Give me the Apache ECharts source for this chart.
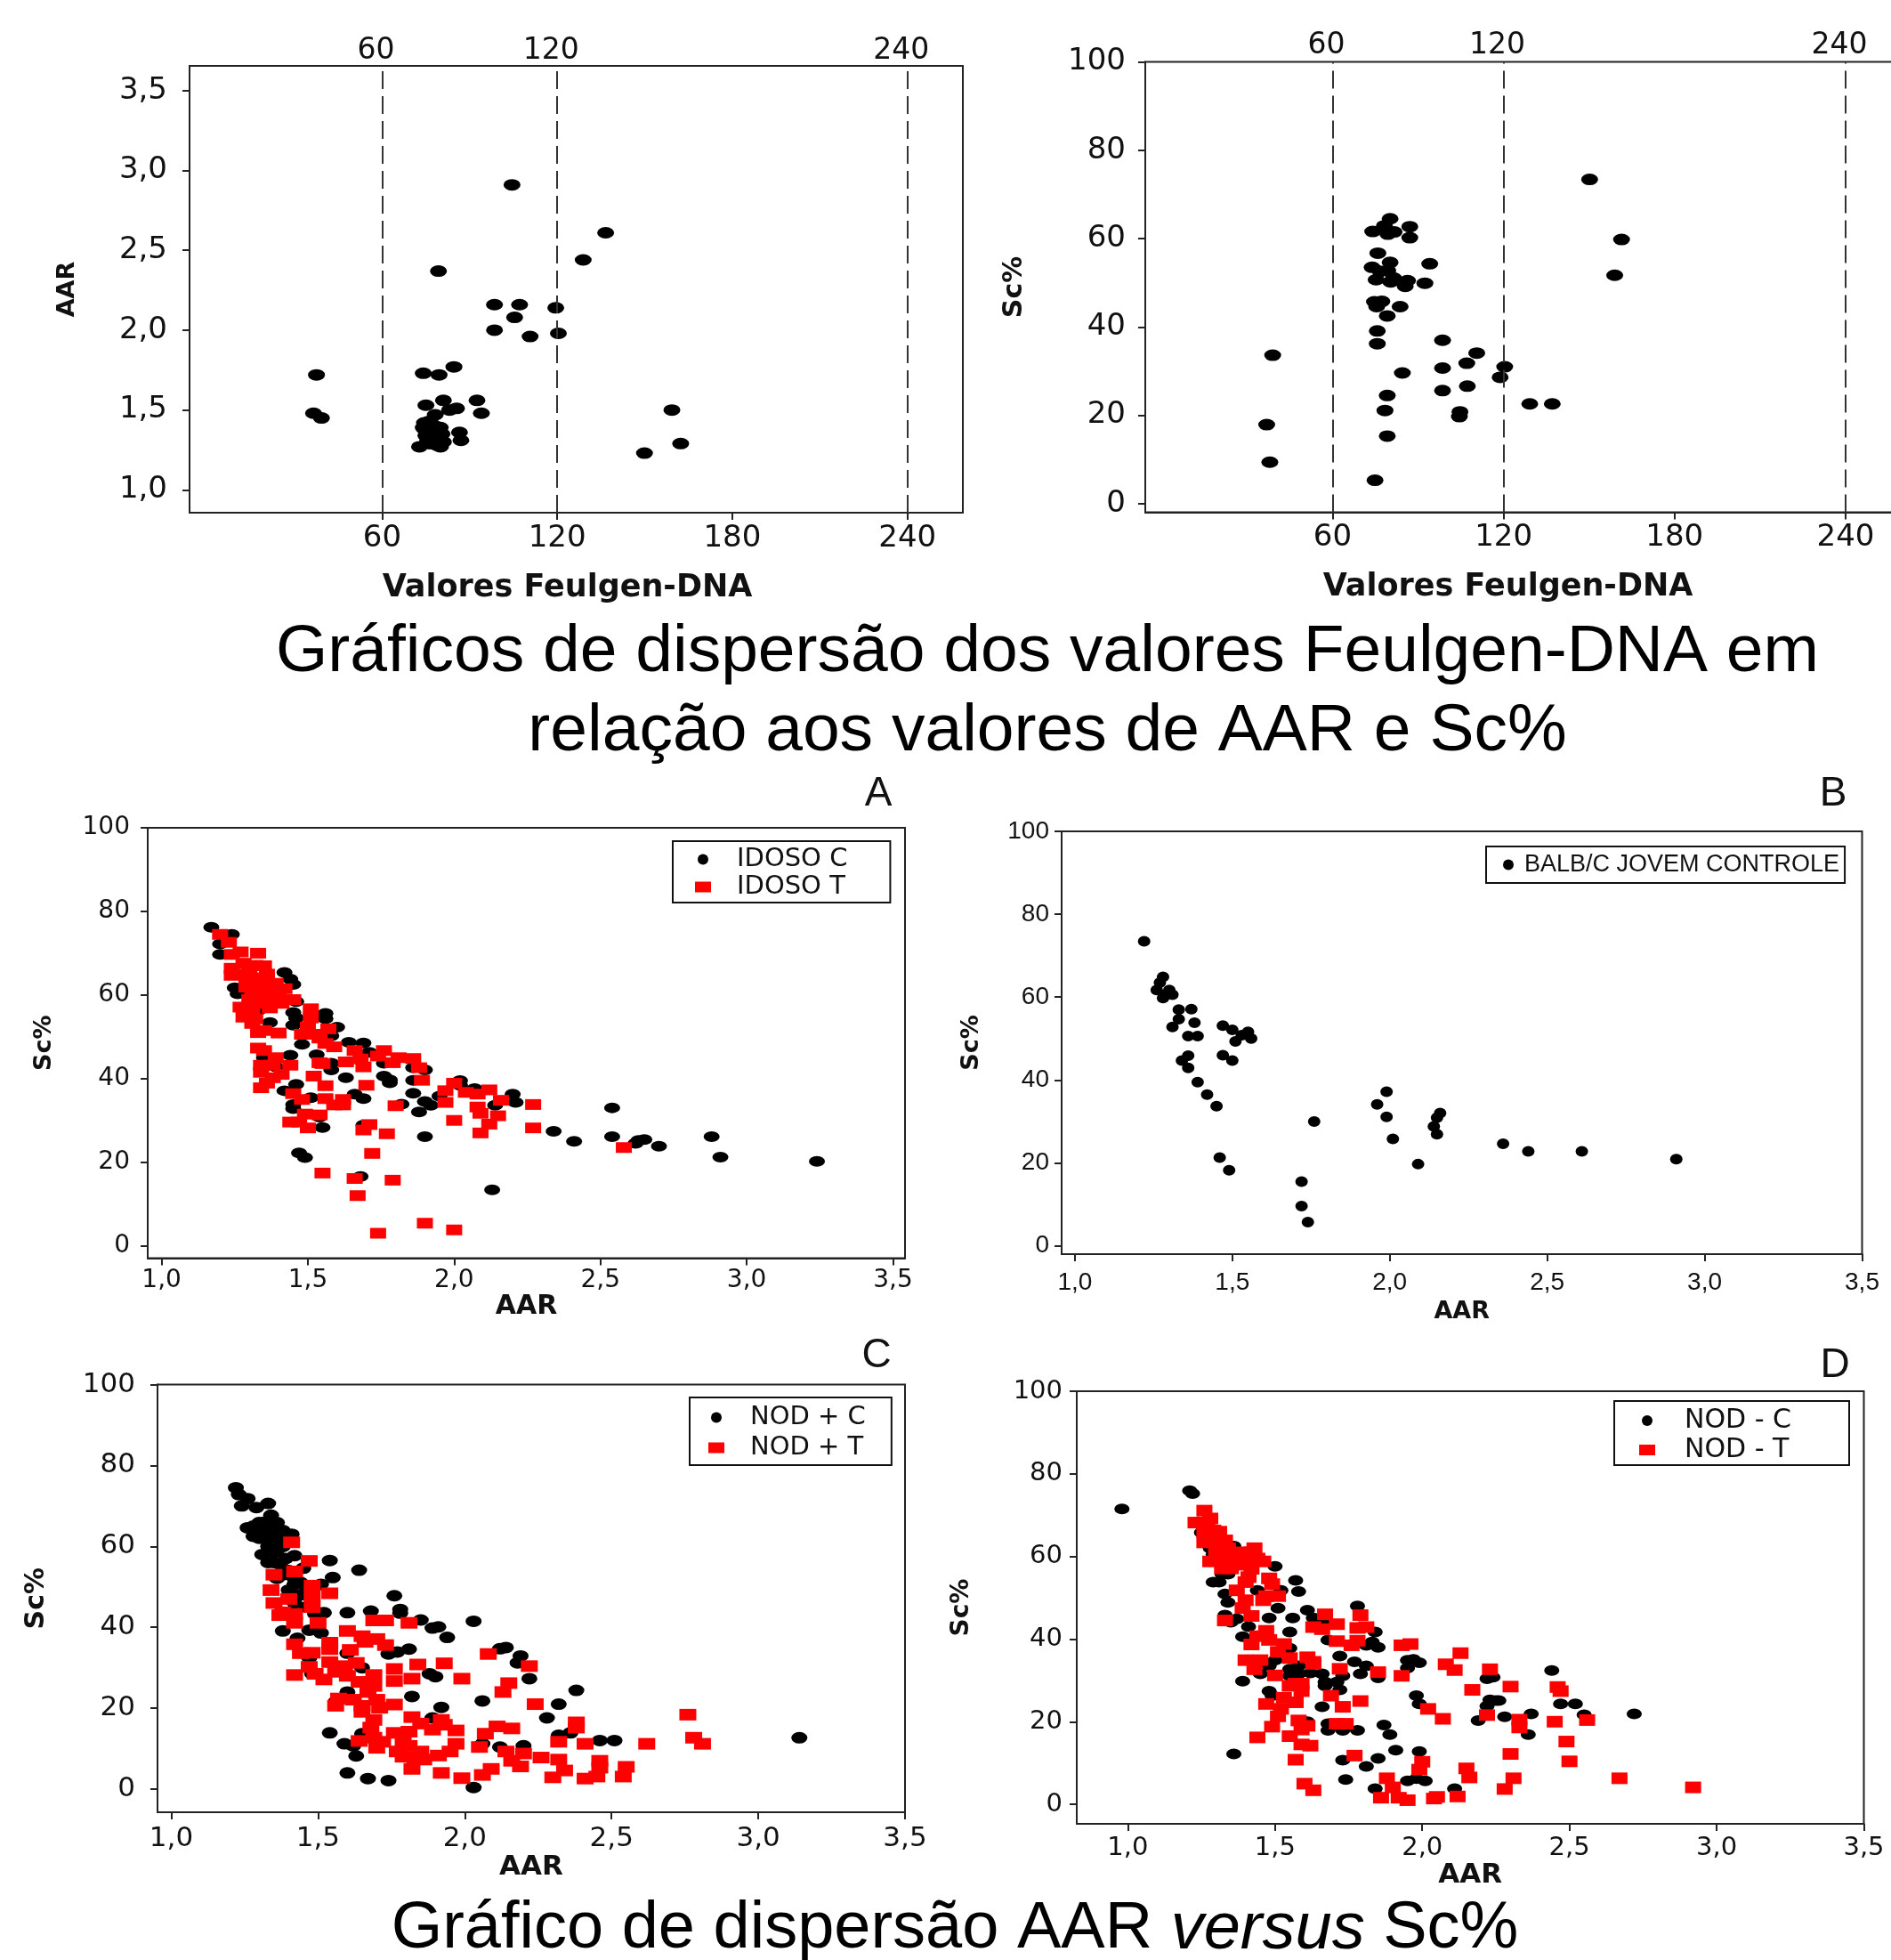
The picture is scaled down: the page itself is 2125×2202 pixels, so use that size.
<!DOCTYPE html>
<html>
<head>
<meta charset="utf-8">
<style>html,body{margin:0;padding:0;background:#fff}#chart{width:2125px;height:2202px}</style>
<script src="https://cdn.jsdelivr.net/npm/echarts@6/dist/echarts.min.js"></script>
</head>
<body>
<div id="chart"></div>
<script>
// ---- tick labels ----
const feulgenTicks = [60, 120, 180, 240];
const feulgenGates = [60, 120, 240];
const aarTicksTop = [1, 1.5, 2, 2.5, 3, 3.5];
const aarTicks = [1, 1.5, 2, 2.5, 3, 3.5];
const scTicks = [0, 20, 40, 60, 80, 100];

// ---- Feulgen-DNA vs AAR ----
const feulgenAar = [[104.5,2.91],[136.6,2.61],[128.9,2.44],[79.3,2.37],[98.5,2.16],[107.1,2.16],[119.5,2.14],[105.4,2.08],[98.5,2.0],[110.7,1.96],[120.4,1.98],[84.6,1.77],[74.1,1.73],[79.5,1.72],[37.5,1.72],[81,1.56],[92.5,1.56],[75,1.53],[85.5,1.51],[83.1,1.5],[94,1.48],[36.5,1.48],[39.2,1.45],[78.2,1.47],[76.3,1.43],[159.3,1.5],[162.3,1.29],[149.9,1.23],[74.6,1.38],[79.9,1.39],[76.7,1.36],[86.5,1.36],[87,1.31],[78.8,1.34],[75.6,1.31],[81,1.3],[72.8,1.27],[78.8,1.28],[76.7,1.32],[74.1,1.39],[77,1.29],[79.5,1.31],[75,1.34],[78,1.37],[80.5,1.35],[76,1.29],[74.5,1.42],[80,1.27],[78,1.4]];

// ---- Feulgen-DNA vs Sc% ----
const feulgenSc = [[150.2,73.4],[161.4,59.8],[159,51.7],[80.2,64.5],[78.2,62.9],[87.1,62.7],[74.1,61.6],[81.6,61.5],[79.4,61],[87.1,60.2],[75.9,56.7],[80.2,54.6],[94.1,54.3],[73.9,53.5],[76.7,52.6],[79.4,52.8],[81.4,51.1],[75.3,50.7],[86.3,50.5],[80.4,50.2],[92.4,49.9],[85.5,49.2],[74.7,45.7],[77.3,45.8],[75.5,44.6],[83.7,44.6],[79.2,42.5],[75.7,39.1],[75.7,36.2],[98.6,37],[39,33.6],[110.6,34.1],[107.1,31.8],[120.4,31],[98.6,30.7],[84.5,29.6],[118.8,28.6],[107.3,26.6],[98.6,25.6],[79.2,24.5],[129.2,22.6],[137.1,22.6],[104.7,20.8],[104.5,19.7],[78.4,21.1],[36.9,17.9],[79.2,15.3],[38,9.4],[74.9,5.3]];

// ---- A: IDOSO ----
const idosoC = [[1.17,76.2],[1.24,74.5],[1.2,72.2],[1.2,69.7],[1.25,61.7],[1.26,60.3],[1.42,65.4],[1.44,63.8],[1.45,62.5],[1.46,58.4],[1.45,55.8],[1.46,54.5],[1.45,52.8],[1.56,55.6],[1.56,54.3],[1.6,52.3],[1.37,53.4],[1.31,57.1],[1.33,56.3],[1.48,48.2],[1.58,50.2],[1.64,48.7],[1.69,48.5],[1.71,46.3],[1.76,43.7],[1.53,45.7],[1.58,43.7],[1.58,42.1],[1.63,40.2],[1.44,45.6],[1.35,45],[1.39,42.8],[1.76,40.6],[1.78,39.7],[1.78,39],[1.86,42.6],[1.9,42.1],[1.86,39.6],[2.02,39.5],[2.02,38.4],[2.07,37.6],[1.86,36.5],[1.95,35.8],[1.9,34.5],[1.92,33.6],[1.82,33.9],[1.88,32],[2.2,36.3],[2.21,34.3],[2.14,33.6],[1.66,36.3],[1.69,35.2],[1.51,35.4],[1.46,38.6],[1.42,37.1],[1.45,33.8],[1.45,32.8],[1.54,30.8],[1.55,28.3],[1.69,28.9],[1.9,26.1],[2.34,27.4],[2.41,25],[2.54,33],[2.54,26.1],[2.62,24.5],[2.63,25.2],[2.65,25.4],[2.7,23.8],[2.88,26.1],[2.91,21.2],[3.24,20.2],[1.47,22.2],[1.49,21.1],[1.68,16.6],[2.13,13.4]];
const idosoT = [[1.2,74.5],[1.23,72.6],[1.27,70.3],[1.24,69.7],[1.33,70],[1.24,66.4],[1.24,64.7],[1.28,67.6],[1.32,67.1],[1.35,67],[1.28,65],[1.3,63.7],[1.33,64.1],[1.36,63.7],[1.39,62.8],[1.42,61.5],[1.29,61.9],[1.32,61.9],[1.35,61.7],[1.38,61],[1.31,60.2],[1.34,59.7],[1.37,59.3],[1.4,60.2],[1.32,58.4],[1.35,58],[1.37,56.9],[1.3,58.9],[1.45,58.9],[1.27,57.1],[1.28,54.7],[1.32,54.3],[1.31,53.2],[1.33,51],[1.35,51.5],[1.4,50.9],[1.48,50.6],[1.51,56.7],[1.51,54.5],[1.5,52.3],[1.52,50.6],[1.54,49.7],[1.57,51.9],[1.56,48.4],[1.59,47.6],[1.33,47.3],[1.35,46.7],[1.39,45],[1.38,43.2],[1.44,43.2],[1.34,43.2],[1.34,41.5],[1.41,41],[1.38,40.2],[1.36,38.9],[1.34,37.8],[1.52,40.6],[1.54,43.8],[1.55,43.6],[1.56,38.3],[1.45,36.4],[1.48,35],[1.56,35.2],[1.59,33.7],[1.62,35],[1.62,33.7],[1.49,31.5],[1.54,31.3],[1.44,29.6],[1.47,29.6],[1.5,28.2],[1.63,44],[1.66,46.7],[1.68,44.7],[1.69,42.8],[1.76,46.7],[1.74,45.4],[1.81,45],[1.79,43.8],[1.86,44.8],[1.88,42.6],[1.89,39.6],[1.7,38.4],[1.8,33.5],[1.71,29],[1.69,27.7],[1.77,26.8],[1.72,22.1],[2,38.9],[1.97,37.1],[1.97,34.3],[2.04,36.7],[2.08,36.3],[2.12,37.3],[2.16,34.8],[2.08,33.2],[2.09,31.7],[2.15,31.1],[2.12,29.1],[2.09,27],[2.27,33.8],[2.27,28.2],[2,30],[2.58,23.5],[1.55,17.4],[1.66,16.1],[1.67,12],[1.79,15.7],[1.9,5.4],[2,3.8],[1.74,3],[1.3,66],[1.36,65],[1.41,58],[1.29,63],[1.36,60.5],[1.33,62.5],[1.31,56.5]];

// ---- B: BALB/C ----
const balbC = [[1.22,73.5],[1.28,64.9],[1.27,63.5],[1.26,61.7],[1.3,61.7],[1.28,59.8],[1.29,60.6],[1.31,60.6],[1.33,57],[1.37,57.1],[1.33,54.7],[1.38,53.8],[1.31,52.8],[1.36,50.6],[1.39,50.6],[1.47,53.1],[1.5,52.1],[1.55,51.6],[1.53,50.8],[1.56,50],[1.51,49.3],[1.36,45.9],[1.34,44.7],[1.36,42.9],[1.47,46],[1.5,44.7],[1.39,39.5],[1.42,36.5],[1.45,33.7],[1.76,30],[1.46,21.3],[1.49,18.2],[1.72,15.5],[1.72,9.6],[1.74,5.7],[1.96,34.1],[1.99,37.2],[1.99,31.1],[2.01,25.8],[2.09,19.7],[2.16,32],[2.15,30.9],[2.14,28.8],[2.15,26.9],[2.36,24.6],[2.44,22.8],[2.61,22.8],[2.91,20.9]];

// ---- C: NOD + ----
const nodPlusC = [[1.22,74.5],[1.23,72.8],[1.26,71.8],[1.24,70],[1.29,69.6],[1.33,70.6],[1.34,67.7],[1.3,65.9],[1.26,64.6],[1.28,62.5],[1.32,63.9],[1.36,65.9],[1.38,63.9],[1.41,63],[1.3,62],[1.34,61],[1.31,58],[1.35,58.5],[1.33,56],[1.37,55.6],[1.42,57.7],[1.45,54.6],[1.36,52.1],[1.42,50.6],[1.4,49.2],[1.44,51.1],[1.51,50.6],[1.54,56.5],[1.55,52.3],[1.64,54.1],[1.76,47.8],[1.68,44],[1.78,44.4],[1.78,43.5],[1.6,43.6],[1.52,43.6],[1.49,43.3],[1.85,41.8],[1.89,39.8],[1.91,40.1],[1.94,37.5],[2.03,41.5],[1.38,39.1],[1.43,37.3],[1.47,39.3],[1.51,38.6],[1.74,33.4],[1.77,33.9],[1.81,34.6],[1.6,33.6],[1.47,32.4],[2.12,34.7],[2.14,35],[2.19,32.9],[2.18,31.2],[2.22,27.3],[1.65,30],[1.88,28.5],[1.9,27.8],[1.48,28.5],[1.82,22.9],[2.06,21.8],[2.38,24.4],[2.32,21],[1.92,20.2],[2.28,17.6],[1.89,17.6],[1.6,24],[1.56,21.6],[1.54,13.9],[1.65,13.7],[1.59,11.2],[1.62,10.7],[1.63,8.2],[2.32,13.3],[2.36,13.9],[2.46,12],[2.51,12],[3.14,12.7],[2.2,10.7],[2.12,10.4],[2.06,11.2],[1.6,4],[1.67,2.6],[1.74,2.1],[2.03,0.4],[1.3,64],[1.32,66],[1.34,64],[1.36,62],[1.33,60],[1.36,59],[1.38,60],[1.39,57],[1.35,56],[1.4,54],[1.42,52],[1.44,48],[1.46,50],[1.42,46],[1.46,45],[1.38,53],[1.34,63],[1.28,65]];
const nodPlusT = [[1.41,61],[1.47,56.4],[1.35,53],[1.42,53.8],[1.34,49.2],[1.48,50.3],[1.48,47.7],[1.54,48.4],[1.4,47],[1.35,46],[1.48,45],[1.38,43.7],[1.42,43.3],[1.37,43],[1.42,41.1],[1.5,41.1],[1.6,39.1],[1.69,41.7],[1.73,41.7],[1.81,41.1],[1.65,37.8],[1.7,37.1],[1.66,36.4],[1.73,35.6],[1.54,36.2],[1.54,34.6],[1.61,34.4],[1.42,35.8],[1.44,33.6],[1.48,33.7],[2.08,33.4],[2.22,30.4],[1.93,31.1],[1.84,30.8],[1.76,29.7],[1.99,27.3],[1.82,27.3],[1.76,26.7],[2.15,26.2],[2.13,24],[2.24,21],[1.42,28.2],[1.47,30.2],[1.49,28.5],[1.52,27.1],[1.54,31.4],[1.63,31.2],[1.56,29],[1.59,30.4],[1.6,28],[1.69,28.2],[1.64,26.5],[1.69,25.5],[1.67,24],[1.57,22.4],[1.62,22.1],[1.7,22.1],[1.56,20.6],[1.65,20.6],[1.65,19.1],[1.71,20.1],[1.76,20.9],[1.69,17.1],[1.68,15.2],[1.82,17.8],[1.85,16.2],[1.92,17.1],[1.93,15.9],[1.97,14.5],[1.76,13.9],[1.81,14.2],[1.89,14.7],[1.64,11.9],[1.69,12.7],[1.72,11.7],[1.7,10.2],[1.79,11.7],[1.81,10.7],[1.77,9.3],[1.85,9.3],[1.79,8],[1.83,7.8],[1.86,7.3],[1.91,8.3],[1.95,9.3],[1.97,11.2],[1.82,5],[1.92,4],[1.99,2.7],[2.06,3.5],[2.09,5],[2.05,10.4],[2.07,13.7],[2.11,15.5],[2.16,15],[2.14,9.3],[2.2,8.8],[2.16,7],[2.19,5.6],[2.26,7.8],[2.32,11.7],[2.32,7.3],[2.34,4.6],[2.3,2.9],[2.38,16.5],[2.38,15.2],[2.41,11.2],[2.41,2.6],[2.45,3.1],[2.46,7],[2.46,5.3],[2.55,5.5],[2.54,3.1],[2.62,11.2],[2.76,18.4],[2.78,12.7],[2.81,11.2]];

// ---- D: NOD - ----
const nodMinusC = [[0.98,71.5],[1.21,75.9],[1.22,75.2],[1.24,68.4],[1.25,65.8],[1.28,62],[1.29,60.5],[1.36,62.5],[1.42,57.6],[1.5,57.6],[1.29,53.8],[1.31,53.8],[1.32,55.7],[1.34,55.7],[1.33,50.9],[1.34,48.9],[1.44,51.8],[1.57,54.2],[1.58,51.5],[1.52,51.8],[1.51,47.5],[1.33,45.8],[1.37,44.9],[1.35,44.1],[1.48,45.1],[1.56,45.1],[1.61,47],[1.63,45.1],[1.78,48],[1.66,44.1],[1.41,43],[1.39,40.6],[1.55,41.7],[1.84,41.7],[1.83,39.3],[1.85,38],[1.81,38.5],[1.68,39.8],[1.55,37.8],[1.72,35.9],[1.77,34.5],[1.81,33.5],[1.79,31.6],[1.85,30.6],[1.95,34.9],[1.97,35.1],[1.99,34.3],[1.95,33],[1.39,29.8],[1.45,31.6],[1.5,34.9],[1.48,33.5],[1.55,32.7],[1.58,33.5],[1.55,31.1],[1.58,31.6],[1.62,31.8],[1.66,31.6],[1.67,29.6],[1.71,29.6],[1.73,31.1],[1.67,28.7],[1.72,27.7],[1.48,27.4],[1.49,26.3],[1.57,28.7],[1.66,23.6],[1.98,26.3],[1.99,24.3],[2.22,30.4],[2.24,30.8],[2.44,32.4],[2.23,25.3],[2.25,25.1],[2.26,25.1],[2.22,23.8],[2.19,20.3],[2.28,21.2],[2.37,21.9],[2.47,24.3],[2.52,24.3],[2.55,21.7],[2.72,21.9],[2.36,16.9],[1.61,20],[1.68,19.5],[1.68,17.9],[1.73,17.9],[1.78,17.9],[1.87,19.2],[1.89,16.9],[1.61,14.2],[1.36,12.2],[1.91,13.1],[1.99,12.8],[1.85,11.1],[1.73,10.7],[1.81,9.2],[1.74,6],[1.95,5.7],[1.98,6.2],[2.01,5.7],[1.84,3.8],[2.11,3.8]];
const nodMinusT = [[1.26,71.1],[1.28,69.2],[1.23,68.2],[1.26,68.2],[1.29,66.3],[1.26,65.8],[1.29,64.9],[1.26,63.4],[1.33,63.9],[1.3,62.5],[1.34,62],[1.38,61],[1.43,62],[1.28,58.8],[1.33,59.6],[1.36,59.1],[1.32,57.1],[1.35,57.1],[1.41,60],[1.46,58.8],[1.42,61],[1.41,55],[1.4,53.8],[1.48,54.7],[1.49,53.3],[1.37,51.8],[1.4,49.4],[1.46,49.4],[1.51,50.4],[1.47,50.4],[1.39,47.5],[1.42,45.6],[1.33,44.5],[1.67,46],[1.79,45.8],[1.71,43.6],[1.63,42.9],[1.66,42.4],[1.78,42.7],[1.81,42.9],[1.47,42],[1.44,40.7],[1.48,39.8],[1.42,38.7],[1.53,38.8],[1.51,36.9],[1.71,39.5],[1.76,38.5],[1.78,39.6],[1.93,38.5],[1.96,38.8],[2.13,36.6],[1.4,34.9],[1.45,34.9],[1.43,32.7],[1.55,35.4],[1.61,35.6],[1.63,34.5],[1.63,34],[1.5,31.2],[1.72,32.8],[1.85,32],[1.93,31.1],[2.08,33.9],[2.11,32.5],[2.23,32.7],[1.57,29.2],[1.55,28.7],[1.59,29.2],[1.59,27.4],[1.69,26.3],[2.17,27.7],[2.3,28.5],[2.46,28.4],[2.47,27.4],[1.53,25.8],[1.57,24.7],[1.47,24.3],[1.52,23.1],[1.51,21.3],[1.73,23.6],[1.79,25],[2.02,23.1],[2.07,20.7],[2.22,21.6],[2.33,20.5],[2.33,18.6],[2.45,20],[2.56,20.4],[1.58,20.3],[1.49,18.8],[1.61,19],[1.59,18.1],[1.71,19.5],[1.74,19.5],[1.55,16.5],[1.44,16.2],[1.59,14.5],[1.62,14.2],[2.49,15.2],[1.57,10.8],[1.77,11.8],[2.3,12.2],[2.5,10.4],[2,10.3],[1.99,8.4],[2.15,8.7],[2.16,6.5],[1.88,6.3],[2.31,6.3],[2.67,6.3],[1.6,5],[1.63,3.4],[1.9,4.1],[1.86,1.6],[1.92,1.6],[1.95,1],[2.04,1.4],[2.05,1.8],[2.12,1.9],[2.28,3.7],[2.92,4.1],[1.27,67],[1.31,66],[1.3,60],[1.34,58],[1.37,60],[1.31,63],[1.39,58],[1.44,59.5],[1.42,57]];

// ---- layout ----
const INK = '#111';
const UI = '"DejaVu Sans", Verdana, sans-serif';
const comma = v => Number(v).toFixed(1).replace('.', ',');
const BLACK = '#000', RED = '#ff0000';

const panels = [
  { rect:[213,74,869,502], x:[-6,259], y:[0.857,3.655], xt:feulgenTicks, yt:aarTicksTop, xf:String, yf:comma, xn:'Valores Feulgen-DNA', yn:'AAR', xg:67, yg:124, fs:34, xm:12, ym:25, xnf:35, ynf:27, xpad:[0,20,0,0], gates:{dist:0},
    s:[{name:'Feulgen-DNA x AAR', d:feulgenAar, c:BLACK, sz:[19,13], sym:'circle'}] },
  { rect:[1287,69.5,843,506], x:[-5.7,257.5], y:[-1.93,100], xt:feulgenTicks, yt:scTicks, xf:String, yf:String, xn:'Valores Feulgen-DNA', yn:'Sc%', xg:67, yg:132, fs:34, xm:12, ym:22, xnf:35, ynf:30, xpad:[0,28,0,0], gates:{dist:2},
    s:[{name:'Feulgen-DNA x Sc%', d:feulgenSc, c:BLACK, sz:[19,13], sym:'circle'}] },
  { rect:[166,930,851,483.5], x:[0.9526,3.541], y:[-2.96,100], xt:aarTicks, yt:scTicks, xf:comma, yf:String, xn:'AAR', yn:'Sc%', xg:33, yg:103, fs:28, xm:11, ym:20, xnf:30, ynf:27, label:'A', lab:[987,892],
    leg:{pos:[756,945], pad:[6,48,3,25], gap:2, font:29, tp:24}, s:[{name:'IDOSO C', d:idosoC, c:BLACK, sz:[18,12], sym:'circle'},{name:'IDOSO T', d:idosoT, c:RED, sz:[18,12], sym:'rect'}] },
  { rect:[1193,934,899.5,475], x:[0.958,3.5], y:[-2.02,100], xt:aarTicks, yt:scTicks, xf:comma, yf:String, xn:'AAR', yn:'Sc%', xg:51, yg:88, fs:28, xm:18, ym:14, xnf:27, ynf:27, narrow:true, label:'B', lab:[2060,892],
    leg:{pos:[1670,951], pad:[7,6,7,19], gap:6, font:27, tp:4}, s:[{name:'BALB/C JOVEM CONTROLE', d:balbC, c:BLACK, sz:[14,12], sym:'circle'}] },
  { rect:[177,1555.5,840,480.5], x:[0.953,3.5], y:[-5.72,100], xt:aarTicks, yt:scTicks, xf:comma, yf:String, xn:'AAR', yn:'Sc%', xg:46, yg:121, fs:31, xm:14, ym:25, xnf:31, ynf:30, label:'C', lab:[985,1523],
    leg:{pos:[775,1570], pad:[8,29,5,21], gap:5, font:29, tp:24}, s:[{name:'NOD + C', d:nodPlusC, c:BLACK, sz:[18,13], sym:'circle'},{name:'NOD + T', d:nodPlusT, c:RED, sz:[19,13], sym:'rect'}] },
  { rect:[1210,1563,884.5,486], x:[0.8265,3.5], y:[-4.72,100], xt:aarTicks, yt:scTicks, xf:comma, yf:String, xn:'AAR', yn:'Sc%', xg:41, yg:115, fs:29, xm:13, ym:16, xnf:31, ynf:28, label:'D', lab:[2062,1534],
    leg:{pos:[1814,1574], pad:[7,65,2,28], gap:3, font:30, tp:28}, s:[{name:'NOD - C', d:nodMinusC, c:BLACK, sz:[17,12], sym:'circle'},{name:'NOD - T', d:nodMinusT, c:RED, sz:[18,13], sym:'rect'}] }
];

const titleFont = '"Liberation Sans"';
const option = { animation:false, backgroundColor:'#fff', grid:[], xAxis:[], yAxis:[], series:[], legend:[],
  title:[
    { text:'Gráficos de dispersão dos valores Feulgen-DNA em', left:1177, top:733, textAlign:'center', textVerticalAlign:'middle', padding:0, textStyle:{fontFamily:titleFont, fontSize:75, fontWeight:'normal', color:'#000'} },
    { text:'relação aos valores de AAR e Sc%', left:1177, top:822, textAlign:'center', textVerticalAlign:'middle', padding:0, textStyle:{fontFamily:titleFont, fontSize:75, fontWeight:'normal', color:'#000'} },
    { text:'{a|Gráfico de dispersão AAR }{i|versus}{a| Sc%}', left:1073, top:2168, textAlign:'center', textVerticalAlign:'middle', padding:0,
      textStyle:{ fontWeight:'normal', rich:{ a:{fontFamily:titleFont, fontSize:74, fontWeight:'normal', color:'#000'}, i:{fontFamily:titleFont, fontSize:74, fontWeight:'normal', fontStyle:'italic', color:'#000'} } } }
  ] };

panels.forEach((p, i) => {
  const [l, t, w, h] = p.rect;
  option.grid.push({ left:l, top:t, width:w, height:h, show:true, borderColor:'#222', borderWidth:2, backgroundColor:'transparent', outerBoundsMode:'none', containLabel:false });
  const labelFont = p.narrow ? titleFont : UI;
  option.xAxis.push({ gridIndex:i, type:'value', min:p.x[0], max:p.x[1], splitLine:{show:false},
    axisLine:{show:true, onZero:false, lineStyle:{color:'#222', width:2}},
    axisTick:{show:true, length:8, customValues:p.xt, lineStyle:{color:'#222', width:2}},
    axisLabel:{customValues:p.xt, formatter:p.xf, color:INK, fontFamily:labelFont, fontSize:p.fs, margin:p.xm, hideOverlap:false, showMinLabel:true, showMaxLabel:true},
    name:p.xn, nameLocation:'middle', nameGap:p.xg, nameTextStyle:{color:INK, fontFamily:UI, fontWeight:'bold', fontSize:p.xnf, padding:p.xpad || 0} });
  option.yAxis.push({ gridIndex:i, type:'value', min:p.y[0], max:p.y[1], splitLine:{show:false},
    axisLine:{show:true, onZero:false, lineStyle:{color:'#222', width:2}},
    axisTick:{show:true, length:8, customValues:p.yt, lineStyle:{color:'#222', width:2}},
    axisLabel:{customValues:p.yt, formatter:p.yf, color:INK, fontFamily:labelFont, fontSize:p.fs, margin:p.ym, hideOverlap:false, showMinLabel:true, showMaxLabel:true},
    name:p.yn, nameLocation:'middle', nameGap:p.yg, nameRotate:90, nameTextStyle:{color:INK, fontFamily:UI, fontWeight:'bold', fontSize:p.ynf} });
  p.s.forEach((s, k) => {
    const ser = { type:'scatter', name:s.name, xAxisIndex:i, yAxisIndex:i, data:s.d, symbol:s.sym, symbolSize:s.sz, itemStyle:{color:s.c, opacity:1}, z:2+k, emphasis:{disabled:true} };
    if (p.gates) ser.markLine = { silent:true, symbol:'none', animation:false,
      lineStyle:{color:'#333', type:[20,8], width:2},
      label:{show:true, position:'end', formatter:'{c}', color:INK, fontFamily:UI, fontSize:33, distance:p.gates.dist, offset:[-7,0]},
      data:feulgenGates.map(v => ({xAxis:v})) };
    option.series.push(ser);
  });
  if (p.leg) {
    option.legend.push({ show:true, left:p.leg.pos[0], top:p.leg.pos[1], orient:'vertical', borderColor:'#111', borderWidth:2, borderRadius:0, backgroundColor:'#fff',
      padding:p.leg.pad, itemGap:p.leg.gap, itemWidth:18, itemHeight:12, symbolKeepAspect:false, selectedMode:false,
      data:p.s.map(s => ({name:s.name, icon:s.sym})),
      textStyle:{color:INK, fontFamily:labelFont, fontSize:p.leg.font, padding:[0,0,0,p.leg.tp]} });
  }
  if (p.label) option.title.push({ text:p.label, left:p.lab[0], top:p.lab[1], textAlign:'center', textVerticalAlign:'middle', padding:0, textStyle:{fontFamily:titleFont, fontSize:46, fontWeight:'normal', color:'#111'} });
});

const chart = echarts.init(document.getElementById('chart'), null, {renderer:'canvas'});
chart.setOption(option);
</script>
</body>
</html>
